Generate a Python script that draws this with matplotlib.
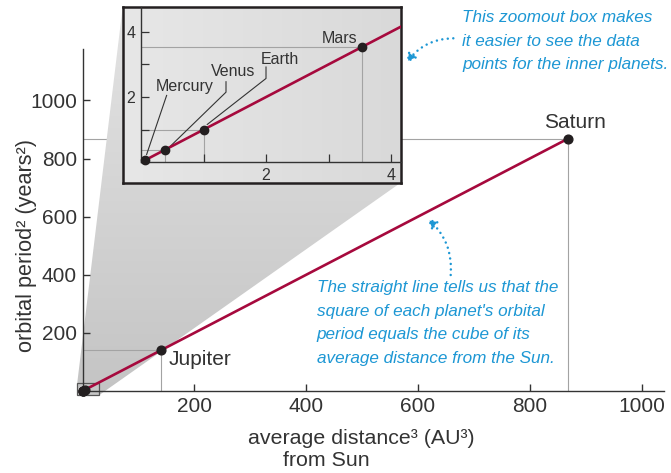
import matplotlib
matplotlib.use("Agg")
import matplotlib.pyplot as plt
import numpy as np
from matplotlib import font_manager as fm
from matplotlib.colors import LinearSegmentedColormap
from matplotlib.patches import Polygon, Rectangle, FancyArrowPatch

# Kepler's third law data (distance^3 in AU^3, period^2 in years^2)
planets = ["Mercury", "Venus", "Earth", "Mars", "Jupiter", "Saturn"]
distance_cubed = [0.058, 0.378, 1.0, 3.54, 140.8, 867.5]
period_squared = [0.058, 0.378, 1.0, 3.54, 140.7, 867.7]

main_xticks = [200, 400, 600, 800, 1000]
main_yticks = [200, 400, 600, 800, 1000]
inset_major = [2, 4]
inset_minor = [1, 3]

W, H = 671, 473
RED = "#a6093d"
DOT = "#231f20"
INK = "#333333"
GUIDE = "#a3a3a3"
BLUE = "#1d97d4"


def available(name):
    try:
        fm.findfont(fm.FontProperties(family=name), fallback_to_default=False)
        return True
    except ValueError:
        return False


def fx(px):
    return px / W


def fy(py):
    return 1 - py / H


plt.rcParams["font.family"] = ["Liberation Sans", "DejaVu Sans"]
if available("Liberation Sans Narrow"):
    note_family, note_size, note_ls = "Liberation Sans Narrow", 15.1, 1.5
else:
    note_family, note_size, note_ls = "Liberation Sans", 12.3, 1.7

fig = plt.figure(figsize=(W / 100, H / 100), dpi=100)

# ---- main axes
ax = fig.add_axes([fx(82.6), fy(391), 581.4 / W, 341.7 / H])
ax.set_xlim(0, 1040)
ax.set_ylim(0, 1176)
for s in ["top", "right"]:
    ax.spines[s].set_visible(False)
for s in ["left", "bottom"]:
    ax.spines[s].set_color(INK)
    ax.spines[s].set_linewidth(1.0)
ax.set_xticks(main_xticks)
ax.set_yticks(main_yticks)
ax.tick_params(direction="in", length=5, width=1, color=INK,
               labelsize=15, labelcolor=INK, pad=4)

# ---- zoom frame + inset axes
frame = fig.add_axes([fx(122.7), fy(182.7), 278 / W, 176 / H])
frame.imshow(np.linspace(0, 1, 256).reshape(1, -1), extent=[0, 1, 0, 1],
             cmap=LinearSegmentedColormap.from_list("f", ["#e7e7e7", "#d9d9d9"]),
             aspect="auto")
frame.set_xlim(0, 1)
frame.set_ylim(0, 1)
frame.set_xticks([])
frame.set_yticks([])
for s in frame.spines.values():
    s.set_color(DOT)
    s.set_linewidth(1.8)

ins = fig.add_axes([fx(141), fy(162.3), 259.7 / W, 155.6 / H])
ins.patch.set_alpha(0)

# ---- cone from the small box to the frame
bx0, by0, bx1, by1 = -9.5, -13.8, 29.9, 28.6
fb = frame.get_position()
to_data = fig.transFigure + ax.transData.inverted()
tl = to_data.transform((fb.x0, fb.y1))
br = to_data.transform((fb.x1, fb.y0))
cone = Polygon([(bx0, by1), tl, br, (bx1, by0)], closed=True, transform=ax.transData)
im = ax.imshow(np.linspace(0, 1, 256).reshape(-1, 1), origin="lower",
               extent=[bx0, br[0], by0, tl[1]], aspect="auto", zorder=1.5,
               cmap=LinearSegmentedColormap.from_list("c", ["#c4c4c4", "#e4e4e4"]))
im.set_clip_path(cone)
im.set_clip_box(fig.bbox)
ax.set_xlim(0, 1040)
ax.set_ylim(0, 1176)
ax.add_patch(Rectangle((bx0, by0), bx1 - bx0, by1 - by0, fc="#c6c6c6",
                       ec="#555555", lw=0.9, clip_on=False, zorder=2))

# guide lines (Saturn under the cone, Jupiter above it)
for i, z in [(5, 1), (4, 2.5)]:
    x, y = distance_cubed[i], period_squared[i]
    ax.plot([0, x], [y, y], color=GUIDE, lw=0.8, zorder=z)
    ax.plot([x, x], [0, y], color=GUIDE, lw=0.8, zorder=z)

ax.plot([0, distance_cubed[-1]], [0, period_squared[-1]], color=RED, lw=1.9,
        zorder=3, solid_capstyle="butt")
ax.plot(distance_cubed, period_squared, "o", ms=6.3, color=DOT, zorder=4,
        clip_on=False)
ax.annotate("Saturn", (distance_cubed[5], period_squared[5]), xytext=(5.5, 8),
            textcoords="offset points", ha="center", va="baseline",
            size=15, color=INK)
ax.annotate("Jupiter", (distance_cubed[4], period_squared[4]), xytext=(5, -10.8),
            textcoords="offset points", ha="left", va="baseline",
            size=15, color=INK)

# ---- inset content
ins.set_xlim(0, 4.155)
ins.set_ylim(0, 4.77)
for s in ["top", "right"]:
    ins.spines[s].set_visible(False)
for s in ["left", "bottom"]:
    ins.spines[s].set_color(INK)
    ins.spines[s].set_linewidth(1.0)
ins.set_xticks(inset_major)
ins.set_yticks(inset_major)
ins.set_xticks(inset_minor, minor=True)
ins.set_yticks(inset_minor, minor=True)
ins.tick_params(which="both", direction="in", length=5.8, width=0.9,
                color=INK, labelsize=11.5, labelcolor=INK, pad=4)

for i in range(1, 4):
    x, y = distance_cubed[i], period_squared[i]
    ins.plot([0, x], [y, y], color=GUIDE, lw=0.8, zorder=1)
    ins.plot([x, x], [0, y], color=GUIDE, lw=0.8, zorder=1)

ins.plot([0, 5], [0, 5], color=RED, lw=1.9, zorder=3)
ins.plot(distance_cubed[:4], period_squared[:4], "o", ms=6, color=DOT,
         zorder=4, clip_on=False)

label_pos = {"Mercury": (0.704, 2.185), "Venus": (1.477, 2.637),
             "Earth": (2.216, 3.028), "Mars": (3.18, 3.643)}
leaders = {"Mercury": [(0.41, 2.05), (0.09, 0.24)],
           "Venus": [(1.36, 2.47), (1.36, 2.15), (0.464, 0.483)],
           "Earth": [(2.0, 2.92), (2.0, 2.57), (1.06, 1.16)]}
for name in planets[:4]:
    lx, ly = label_pos[name]
    ins.text(lx, ly, name, ha="center", va="baseline", size=11.5, color=INK,
             zorder=5)
    if name in leaders:
        pts = np.array(leaders[name])
        ins.plot(pts[:, 0], pts[:, 1], color=INK, lw=0.8, zorder=2)

# ---- axis titles
fig.text(fx(27), fy(245), "orbital period² (years²)", rotation=90,
         ha="center", va="center", size=15.6, color=INK)
fig.text(fx(361), fy(438), "average distance³ (AU³)", ha="center",
         va="center", size=15.4, color=INK)
fig.text(fx(326), fy(460), "from Sun", ha="center", va="center", size=15.4,
         color=INK)

# ---- blue notes
fig.text(fx(462), fy(41),
         "This zoomout box makes\nit easier to see the data\npoints for the inner planets.",
         ha="left", va="center", family=note_family, style="italic",
         size=note_size, color=BLUE, linespacing=note_ls)
fig.text(fx(316.7), fy(323),
         "The straight line tells us that the\nsquare of each planet's orbital\n"
         "period equals the cube of its\naverage distance from the Sun.",
         ha="left", va="center", family=note_family, style="italic",
         size=note_size, color=BLUE, linespacing=note_ls)

for a, b in [((453.3, 38.3), (406.7, 62.7)), ((450.7, 275), (427.7, 219))]:
    arr = FancyArrowPatch((fx(a[0]), fy(a[1])), (fx(b[0]), fy(b[1])),
                          connectionstyle="arc3,rad=0.25",
                          arrowstyle="-|>,head_length=0.5,head_width=0.3",
                          mutation_scale=10, lw=1.8, color=BLUE,
                          linestyle=(0, (0.01, 2.2)), capstyle="round",
                          shrinkA=0, shrinkB=0, transform=fig.transFigure)
    fig.add_artist(arr)

fig.savefig("out.png", dpi=100)
